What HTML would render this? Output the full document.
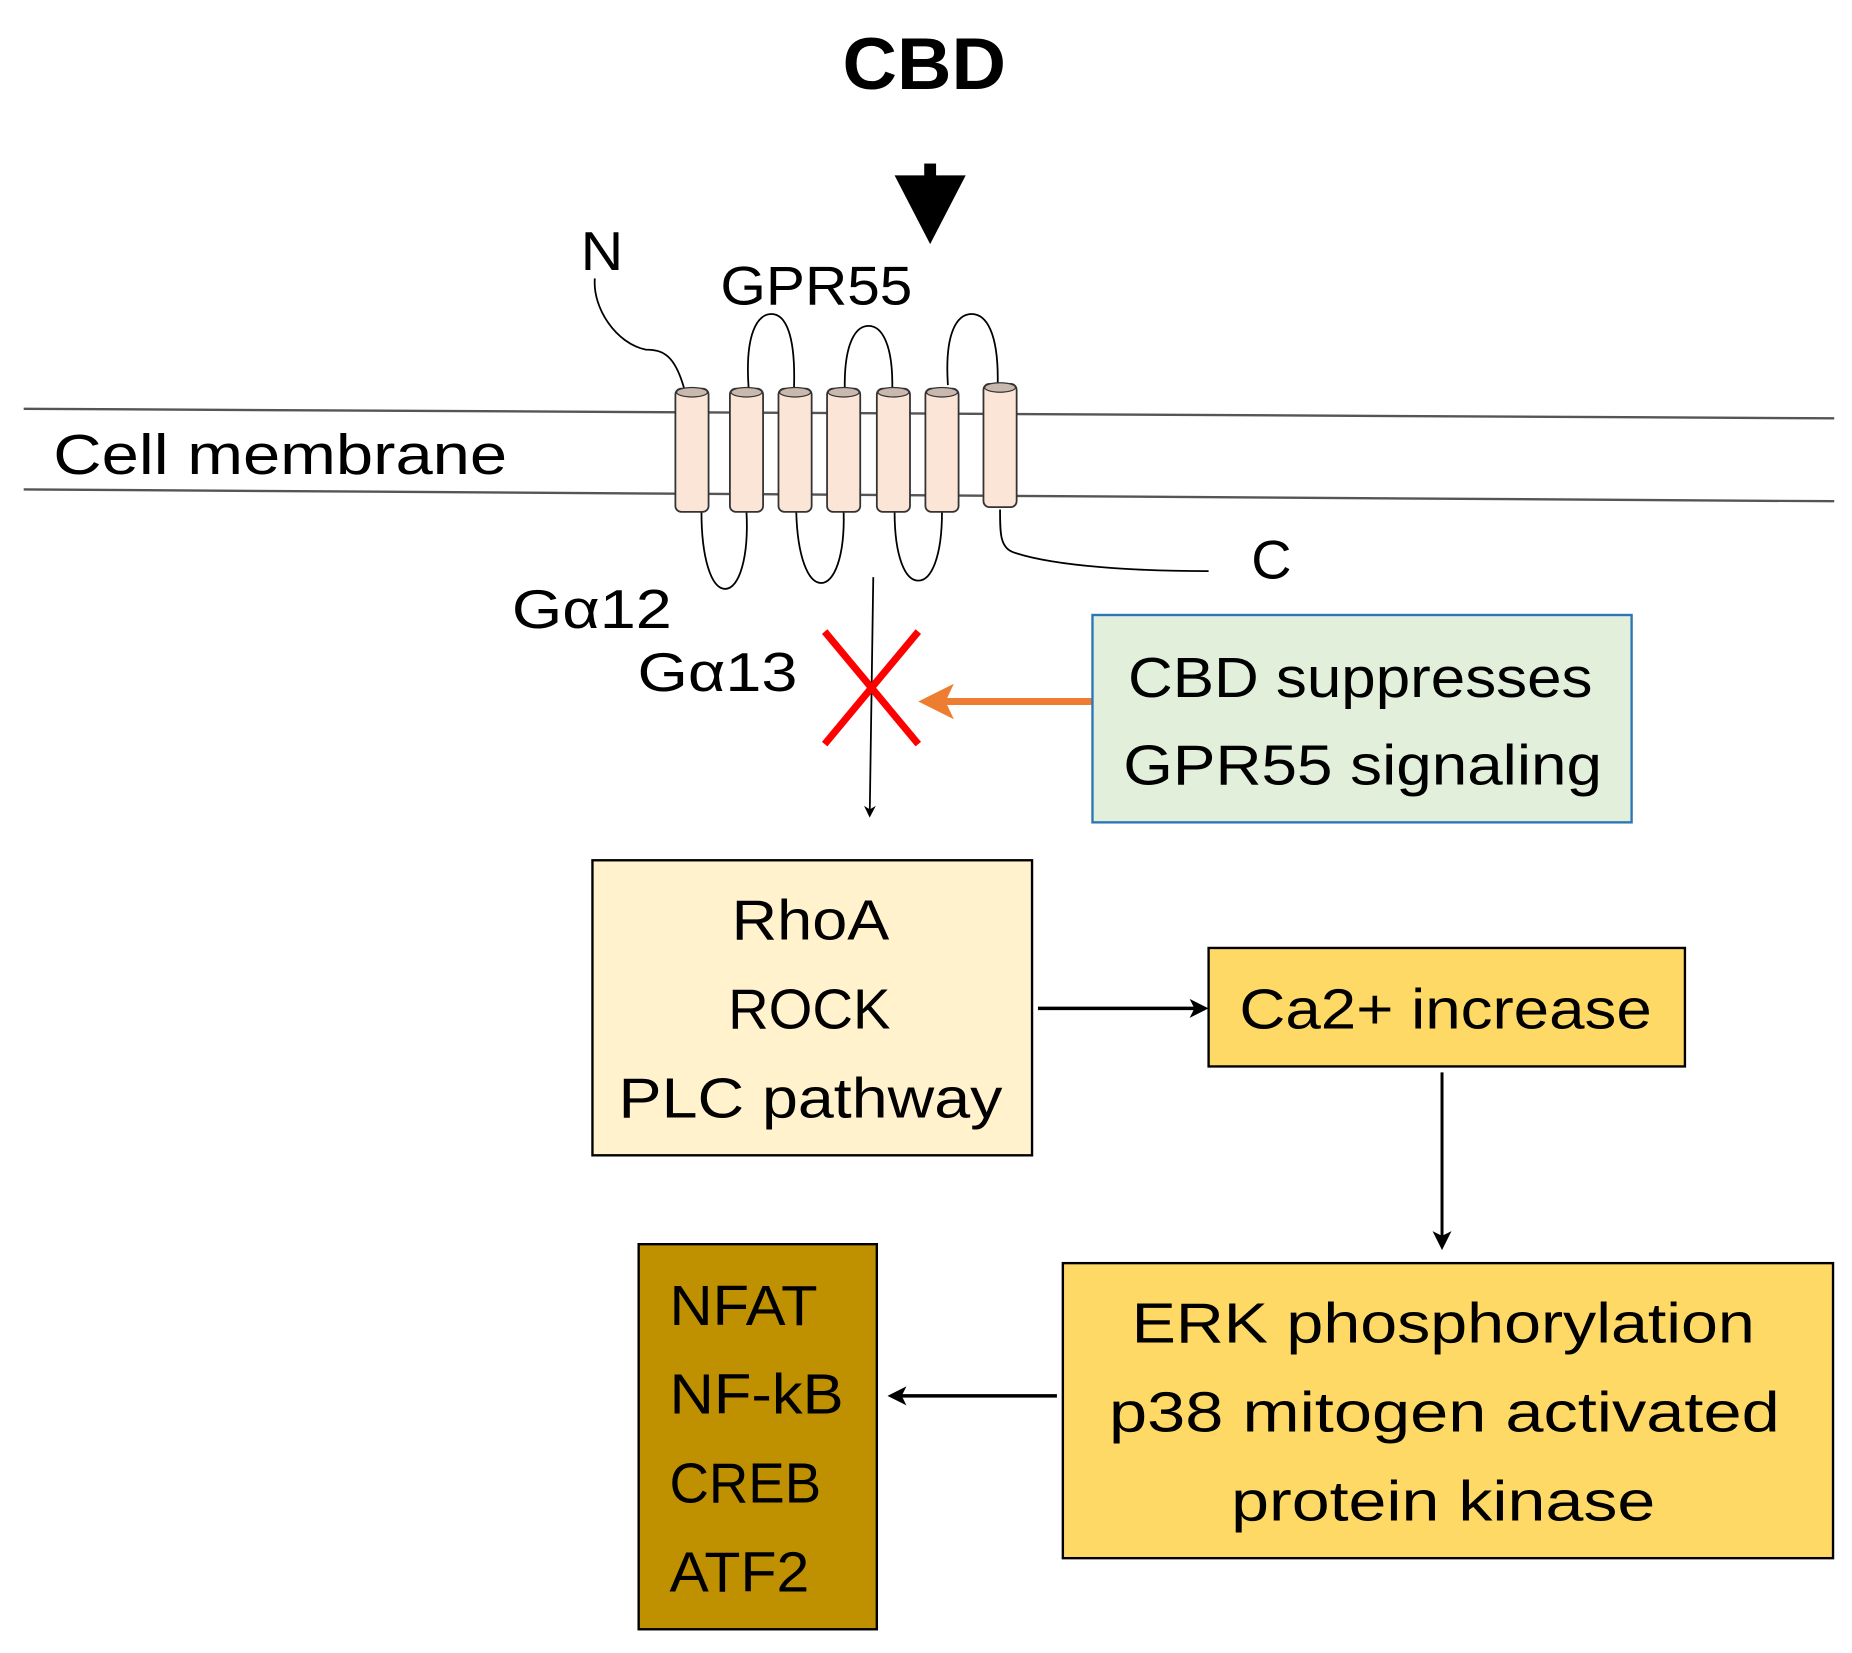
<!DOCTYPE html>
<html><head><meta charset="utf-8"><style>html,body{margin:0;padding:0;background:#fff}svg{display:block}</style></head>
<body>
<svg width="1852" height="1653" viewBox="0 0 1563 1395" xmlns="http://www.w3.org/2000/svg" font-family="'Liberation Sans', sans-serif" fill="#000">
<defs>
<marker id="ah" markerWidth="10" markerHeight="10" refX="8" refY="5" orient="auto" markerUnits="userSpaceOnUse"><path d="M0,0 L10,5 L0,10 L3,5 Z" fill="#000"/></marker>
<marker id="ah2" markerWidth="16" markerHeight="16" refX="13" refY="8" orient="auto" markerUnits="userSpaceOnUse"><path d="M0,0 L16,8 L0,16 L4,8 Z" fill="#000"/></marker>
</defs>
<text x="780" y="75" font-size="62" font-weight="bold" text-anchor="middle" textLength="138" lengthAdjust="spacingAndGlyphs">CBD</text>
<rect x="780" y="138" width="10" height="12"/>
<path d="M755,148 L815,148 L785,206 Z"/>
<text x="490" y="228" font-size="46" textLength="36" lengthAdjust="spacingAndGlyphs">N</text>
<text x="608" y="257" font-size="46" textLength="162" lengthAdjust="spacingAndGlyphs">GPR55</text>
<line x1="20" y1="345" x2="1548" y2="353" stroke="#555" stroke-width="2"/>
<line x1="20" y1="413" x2="1548" y2="423" stroke="#555" stroke-width="2"/>
<text x="45" y="400" font-size="48" textLength="383" lengthAdjust="spacingAndGlyphs">Cell membrane</text>
<g fill="none" stroke="#000" stroke-width="1.5">
<path d="M578,330 C570,300 560,295 545,295 C520,290 500,260 502,235"/>
<path d="M632,330 C628,280 640,265 651,265 C662,265 672,280 670,330"/>
<path d="M713,330 C712,290 722,275 733,275 C744,275 754,290 753,330"/>
<path d="M800,325 C797,280 808,265 820,265 C832,265 843,280 842,325"/>
<path d="M592,432 C592,470 600,497 612,497 C624,497 632,470 630,432"/>
<path d="M672,432 C673,470 682,492 693,492 C704,492 713,470 712,432"/>
<path d="M755,432 C755,470 764,490 775,490 C786,490 795,470 795,432"/>
<path d="M844,430 C844,450 844,462 855,466 C890,478 960,482 1020,482"/>
</g>
<g fill="#FBE5D6" stroke="#333" stroke-width="1.5">
<rect x="570" y="328" width="28" height="104" rx="5"/>
<rect x="616" y="328" width="28" height="104" rx="5"/>
<rect x="657" y="328" width="28" height="104" rx="5"/>
<rect x="698" y="328" width="28" height="104" rx="5"/>
<rect x="740" y="328" width="28" height="104" rx="5"/>
<rect x="781" y="328" width="28" height="104" rx="5"/>
<rect x="830" y="324" width="28" height="104" rx="5"/>
</g>
<g fill="#C9B8AD" stroke="#333" stroke-width="1">
<ellipse cx="584" cy="331" rx="13" ry="4"/><ellipse cx="630" cy="331" rx="13" ry="4"/><ellipse cx="671" cy="331" rx="13" ry="4"/><ellipse cx="712" cy="331" rx="13" ry="4"/><ellipse cx="754" cy="331" rx="13" ry="4"/><ellipse cx="795" cy="331" rx="13" ry="4"/><ellipse cx="844" cy="327" rx="13" ry="4"/>
</g>
<text x="1056" y="488" font-size="46" textLength="34" lengthAdjust="spacingAndGlyphs">C</text>
<text x="432" y="530" font-size="46" textLength="135" lengthAdjust="spacingAndGlyphs">Gα12</text>
<text x="538" y="583" font-size="46" textLength="135" lengthAdjust="spacingAndGlyphs">Gα13</text>
<line x1="737" y1="487" x2="734" y2="688" stroke="#000" stroke-width="1.5" marker-end="url(#ah)"/>
<line x1="696" y1="533" x2="775" y2="628" stroke="#F00" stroke-width="6"/>
<line x1="775" y1="533" x2="696" y2="628" stroke="#F00" stroke-width="6"/>
<line x1="922" y1="592" x2="795" y2="592" stroke="#ED7D31" stroke-width="6"/>
<path d="M775,592 L805,577 L798,592 L805,607 Z" fill="#ED7D31"/>
<rect x="922" y="519" width="455" height="175" fill="#E2EFDA" stroke="#2E75B6" stroke-width="2"/>
<text x="1148" y="588" font-size="48" text-anchor="middle" textLength="392" lengthAdjust="spacingAndGlyphs">CBD suppresses</text>
<text x="1150" y="662" font-size="48" text-anchor="middle" textLength="404" lengthAdjust="spacingAndGlyphs">GPR55 signaling</text>
<rect x="500" y="726" width="371" height="249" fill="#FFF2CC" stroke="#000" stroke-width="2"/>
<text x="684" y="793" font-size="48" text-anchor="middle" textLength="133" lengthAdjust="spacingAndGlyphs">RhoA</text>
<text x="683" y="868" font-size="48" text-anchor="middle" textLength="137" lengthAdjust="spacingAndGlyphs">ROCK</text>
<text x="684" y="943" font-size="48" text-anchor="middle" textLength="324" lengthAdjust="spacingAndGlyphs">PLC pathway</text>
<line x1="876" y1="851" x2="1017" y2="851" stroke="#000" stroke-width="3" marker-end="url(#ah2)"/>
<rect x="1020" y="800" width="402" height="100" fill="#FFD966" stroke="#000" stroke-width="2"/>
<text x="1220" y="868" font-size="48" text-anchor="middle" textLength="348" lengthAdjust="spacingAndGlyphs">Ca2+ increase</text>
<line x1="1217" y1="905" x2="1217" y2="1052" stroke="#000" stroke-width="2.5" marker-end="url(#ah2)"/>
<rect x="897" y="1066" width="650" height="249" fill="#FFD966" stroke="#000" stroke-width="2"/>
<text x="1218" y="1133" font-size="48" text-anchor="middle" textLength="526" lengthAdjust="spacingAndGlyphs">ERK phosphorylation</text>
<text x="1219" y="1208" font-size="48" text-anchor="middle" textLength="566" lengthAdjust="spacingAndGlyphs">p38 mitogen activated</text>
<text x="1218" y="1283" font-size="48" text-anchor="middle" textLength="358" lengthAdjust="spacingAndGlyphs">protein kinase</text>
<line x1="892" y1="1178" x2="752" y2="1178" stroke="#000" stroke-width="3" marker-end="url(#ah2)"/>
<rect x="539" y="1050" width="201" height="325" fill="#BF9000" stroke="#000" stroke-width="2"/>
<text x="565" y="1118" font-size="48" textLength="125" lengthAdjust="spacingAndGlyphs">NFAT</text>
<text x="565" y="1193" font-size="48" textLength="147" lengthAdjust="spacingAndGlyphs">NF-kB</text>
<text x="565" y="1268" font-size="48" textLength="128" lengthAdjust="spacingAndGlyphs">CREB</text>
<text x="565" y="1343" font-size="48" textLength="118" lengthAdjust="spacingAndGlyphs">ATF2</text>
</svg>
</body></html>
